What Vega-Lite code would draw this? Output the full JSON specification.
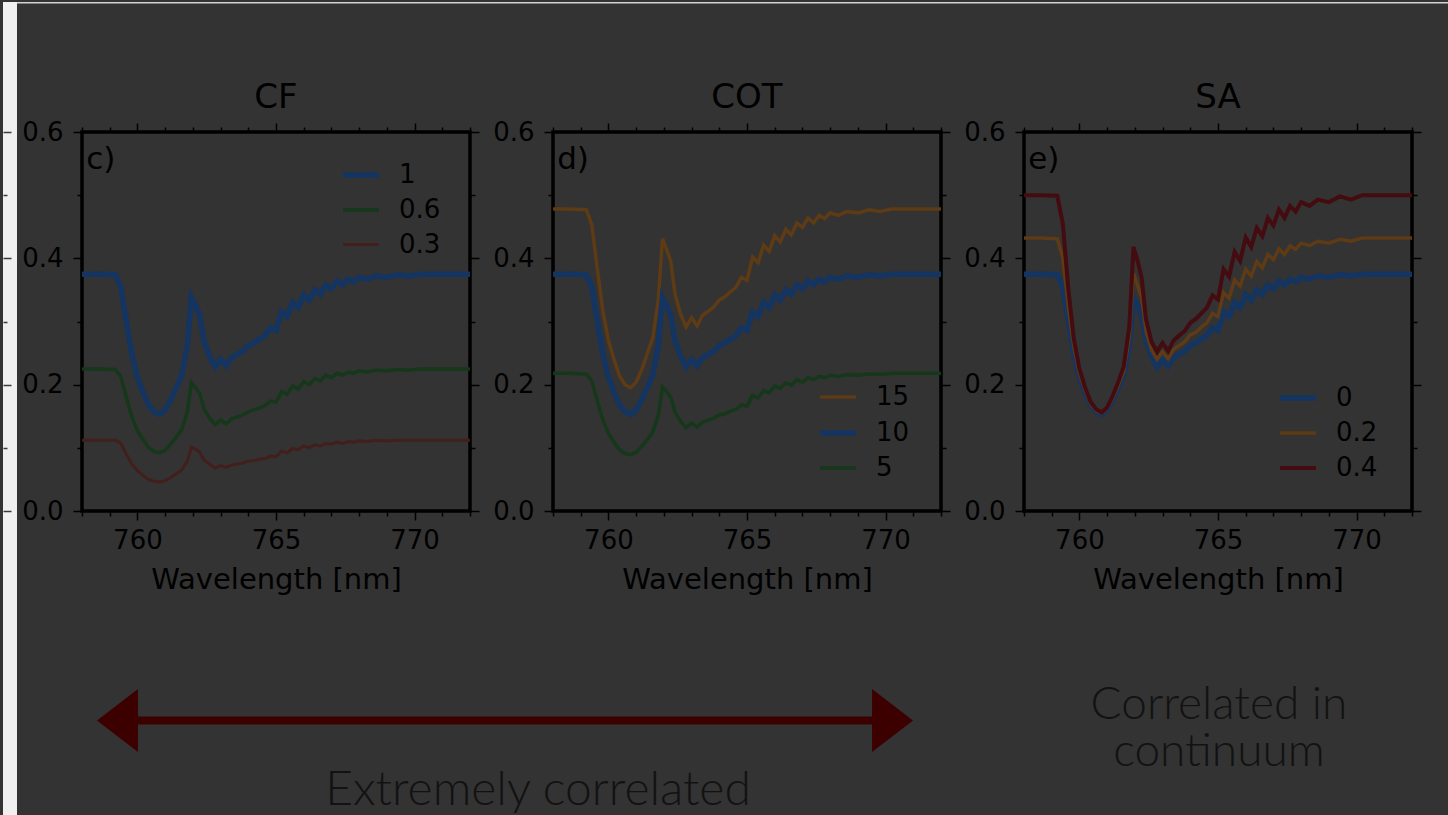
{
"$schema": "https://vega.github.io/schema/vega-lite/v6.json",
"background": "#333333",
"padding": 0,
"datasets": {"spec": [
{"wl":758.0,"b":0.375,"cf06":0.225,"cf03":0.112,"t15":0.478,"t5":0.218,"s02":0.432,"s04":0.500},
{"wl":758.6,"b":0.375,"cf06":0.225,"cf03":0.112,"t15":0.478,"t5":0.218,"s02":0.432,"s04":0.500},
{"wl":759.2,"b":0.374,"cf06":0.224,"cf03":0.112,"t15":0.477,"t5":0.217,"s02":0.431,"s04":0.499},
{"wl":759.4,"b":0.355,"cf06":0.213,"cf03":0.107,"t15":0.453,"t5":0.206,"s02":0.401,"s04":0.455},
{"wl":759.6,"b":0.300,"cf06":0.180,"cf03":0.090,"t15":0.383,"t5":0.174,"s02":0.323,"s04":0.351},
{"wl":759.8,"b":0.248,"cf06":0.149,"cf03":0.074,"t15":0.316,"t5":0.144,"s02":0.259,"s04":0.272},
{"wl":760.0,"b":0.212,"cf06":0.127,"cf03":0.064,"t15":0.270,"t5":0.123,"s02":0.218,"s04":0.225},
{"wl":760.2,"b":0.188,"cf06":0.113,"cf03":0.056,"t15":0.240,"t5":0.109,"s02":0.192,"s04":0.196},
{"wl":760.4,"b":0.168,"cf06":0.101,"cf03":0.050,"t15":0.214,"t5":0.097,"s02":0.170,"s04":0.173},
{"wl":760.6,"b":0.157,"cf06":0.094,"cf03":0.047,"t15":0.200,"t5":0.091,"s02":0.159,"s04":0.161},
{"wl":760.8,"b":0.153,"cf06":0.092,"cf03":0.046,"t15":0.195,"t5":0.089,"s02":0.155,"s04":0.156},
{"wl":761.0,"b":0.160,"cf06":0.096,"cf03":0.048,"t15":0.204,"t5":0.093,"s02":0.162,"s04":0.164},
{"wl":761.2,"b":0.176,"cf06":0.106,"cf03":0.053,"t15":0.224,"t5":0.102,"s02":0.179,"s04":0.182},
{"wl":761.4,"b":0.195,"cf06":0.117,"cf03":0.059,"t15":0.249,"t5":0.113,"s02":0.199,"s04":0.204},
{"wl":761.6,"b":0.215,"cf06":0.129,"cf03":0.065,"t15":0.274,"t5":0.125,"s02":0.221,"s04":0.229},
{"wl":761.8,"b":0.262,"cf06":0.157,"cf03":0.079,"t15":0.334,"t5":0.152,"s02":0.276,"s04":0.292},
{"wl":761.95,"b":0.338,"cf06":0.203,"cf03":0.101,"t15":0.431,"t5":0.196,"s02":0.376,"s04":0.418},
{"wl":762.1,"b":0.325,"cf06":0.195,"cf03":0.098,"t15":0.414,"t5":0.189,"s02":0.357,"s04":0.396},
{"wl":762.25,"b":0.310,"cf06":0.186,"cf03":0.093,"t15":0.395,"t5":0.180,"s02":0.337,"s04":0.368},
{"wl":762.4,"b":0.270,"cf06":0.162,"cf03":0.081,"t15":0.344,"t5":0.157,"s02":0.285,"s04":0.304},
{"wl":762.6,"b":0.245,"cf06":0.147,"cf03":0.074,"t15":0.312,"t5":0.142,"s02":0.255,"s04":0.268},
{"wl":762.8,"b":0.228,"cf06":0.137,"cf03":0.068,"t15":0.291,"t5":0.132,"s02":0.240,"s04":0.252},
{"wl":763.0,"b":0.240,"cf06":0.144,"cf03":0.072,"t15":0.306,"t5":0.139,"s02":0.252,"s04":0.266},
{"wl":763.2,"b":0.230,"cf06":0.138,"cf03":0.069,"t15":0.293,"t5":0.133,"s02":0.241,"s04":0.253},
{"wl":763.4,"b":0.243,"cf06":0.146,"cf03":0.073,"t15":0.310,"t5":0.141,"s02":0.256,"s04":0.270},
{"wl":763.6,"b":0.248,"cf06":0.149,"cf03":0.074,"t15":0.316,"t5":0.144,"s02":0.262,"s04":0.278},
{"wl":763.8,"b":0.253,"cf06":0.152,"cf03":0.076,"t15":0.323,"t5":0.147,"s02":0.268,"s04":0.285},
{"wl":764.0,"b":0.262,"cf06":0.157,"cf03":0.079,"t15":0.334,"t5":0.152,"s02":0.279,"s04":0.298},
{"wl":764.2,"b":0.266,"cf06":0.160,"cf03":0.080,"t15":0.339,"t5":0.154,"s02":0.283,"s04":0.304},
{"wl":764.4,"b":0.272,"cf06":0.163,"cf03":0.082,"t15":0.347,"t5":0.158,"s02":0.291,"s04":0.313},
{"wl":764.6,"b":0.278,"cf06":0.167,"cf03":0.083,"t15":0.354,"t5":0.161,"s02":0.298,"s04":0.322},
{"wl":764.8,"b":0.290,"cf06":0.174,"cf03":0.087,"t15":0.370,"t5":0.168,"s02":0.313,"s04":0.341},
{"wl":765.0,"b":0.286,"cf06":0.172,"cf03":0.086,"t15":0.365,"t5":0.166,"s02":0.308,"s04":0.335},
{"wl":765.2,"b":0.315,"cf06":0.189,"cf03":0.095,"t15":0.402,"t5":0.183,"s02":0.346,"s04":0.383},
{"wl":765.4,"b":0.308,"cf06":0.185,"cf03":0.092,"t15":0.393,"t5":0.179,"s02":0.337,"s04":0.371},
{"wl":765.6,"b":0.330,"cf06":0.198,"cf03":0.099,"t15":0.421,"t5":0.191,"s02":0.366,"s04":0.410},
{"wl":765.8,"b":0.322,"cf06":0.193,"cf03":0.097,"t15":0.411,"t5":0.187,"s02":0.356,"s04":0.396},
{"wl":766.0,"b":0.342,"cf06":0.205,"cf03":0.103,"t15":0.436,"t5":0.198,"s02":0.383,"s04":0.433},
{"wl":766.2,"b":0.334,"cf06":0.200,"cf03":0.100,"t15":0.426,"t5":0.194,"s02":0.372,"s04":0.418},
{"wl":766.4,"b":0.350,"cf06":0.210,"cf03":0.105,"t15":0.446,"t5":0.203,"s02":0.395,"s04":0.448},
{"wl":766.6,"b":0.343,"cf06":0.206,"cf03":0.103,"t15":0.437,"t5":0.199,"s02":0.385,"s04":0.435},
{"wl":766.8,"b":0.358,"cf06":0.215,"cf03":0.107,"t15":0.456,"t5":0.208,"s02":0.406,"s04":0.464},
{"wl":767.0,"b":0.352,"cf06":0.211,"cf03":0.106,"t15":0.449,"t5":0.204,"s02":0.398,"s04":0.452},
{"wl":767.2,"b":0.364,"cf06":0.218,"cf03":0.109,"t15":0.464,"t5":0.211,"s02":0.415,"s04":0.477},
{"wl":767.4,"b":0.358,"cf06":0.215,"cf03":0.107,"t15":0.456,"t5":0.208,"s02":0.406,"s04":0.464},
{"wl":767.6,"b":0.367,"cf06":0.220,"cf03":0.110,"t15":0.468,"t5":0.213,"s02":0.420,"s04":0.483},
{"wl":767.8,"b":0.363,"cf06":0.218,"cf03":0.109,"t15":0.463,"t5":0.211,"s02":0.414,"s04":0.474},
{"wl":768.0,"b":0.370,"cf06":0.222,"cf03":0.111,"t15":0.472,"t5":0.215,"s02":0.424,"s04":0.489},
{"wl":768.3,"b":0.367,"cf06":0.220,"cf03":0.110,"t15":0.468,"t5":0.213,"s02":0.420,"s04":0.483},
{"wl":768.6,"b":0.372,"cf06":0.223,"cf03":0.112,"t15":0.474,"t5":0.216,"s02":0.427,"s04":0.493},
{"wl":769.0,"b":0.370,"cf06":0.222,"cf03":0.111,"t15":0.472,"t5":0.215,"s02":0.424,"s04":0.489},
{"wl":769.4,"b":0.374,"cf06":0.224,"cf03":0.112,"t15":0.477,"t5":0.217,"s02":0.430,"s04":0.498},
{"wl":769.8,"b":0.372,"cf06":0.223,"cf03":0.112,"t15":0.474,"t5":0.216,"s02":0.427,"s04":0.493},
{"wl":770.2,"b":0.375,"cf06":0.225,"cf03":0.112,"t15":0.478,"t5":0.218,"s02":0.432,"s04":0.500},
{"wl":771.0,"b":0.375,"cf06":0.225,"cf03":0.112,"t15":0.478,"t5":0.218,"s02":0.432,"s04":0.500},
{"wl":772.0,"b":0.375,"cf06":0.225,"cf03":0.112,"t15":0.478,"t5":0.218,"s02":0.432,"s04":0.500}
]},
"config": {
  "font": "DejaVu Sans",
  "view": {"stroke": "#000000", "strokeWidth": 3.5},
  "axis": {"domain": false, "grid": false, "tickColor": "#000000", "tickWidth": 1.5, "labelColor": "#000000", "labelFontSize": 26, "labelFont": "DejaVu Sans", "labelFlush": false, "titleColor": "#000000", "titleFontSize": 29, "titleFontWeight": "normal", "titleFont": "DejaVu Sans"},
  "legend": {"symbolType": "stroke", "symbolSize": 1296, "labelFontSize": 26, "labelFont": "DejaVu Sans", "labelColor": "#000000", "rowPadding": 2, "padding": 0, "labelOffset": 17},
  "title": {"fontSize": 34, "fontWeight": "normal", "font": "DejaVu Sans", "color": "#000000", "anchor": "middle", "frame": "group", "baseline": "alphabetic"}
},
"vconcat": [
 {"hconcat": [
  {"width": 388, "height": 379,
   "title": {"text": "CF", "offset": -113},
   "data": {"name": "spec"},
   "layer": [
    {"data": {"values": [{"t": "strip"}]},
     "mark": {"type": "rect", "fill": "#f0f0f0", "clip": false},
     "encoding": {
      "x": {"datum": 755.1495, "type": "quantitative", "axis": null},
      "x2": {"datum": 755.6546},
      "y": {"datum": -0.4844, "type": "quantitative", "axis": {"orient": "right", "offset": -467, "values": [0, 0.2, 0.4, 0.6], "tickSize": 8, "labels": false, "title": null, "tickColor": "#3a3a3a", "zindex": 1}},
      "y2": {"datum": 0.8058}
     }},
    {"data": {"values": [{"t": "top edge"}]},
     "mark": {"type": "rect", "fill": "#d4d4d4", "clip": false},
     "encoding": {
      "x": {"datum": 755.6546, "type": "quantitative", "axis": null},
      "x2": {"datum": 807.40},
      "y": {"datum": 0.8034, "type": "quantitative", "axis": null},
      "y2": {"datum": 0.8058}
     }},
    {"transform": [{"fold": ["b", "cf06", "cf03"], "as": ["k", "v"]}],
     "mark": {"type": "line"},
     "encoding": {
      "x": {"field": "wl", "type": "quantitative", "scale": {"domain": [758, 772], "nice": false, "zero": false}, "axis": {"orient": "bottom", "values": [760, 765, 770], "tickSize": 9, "labelPadding": 7, "title": "Wavelength [nm]", "titlePadding": 12}},
      "y": {"field": "v", "type": "quantitative", "scale": {"domain": [0, 0.6], "nice": false, "zero": false}, "axis": {"orient": "left", "values": [0, 0.2, 0.4, 0.6], "format": ".1f", "tickSize": 9, "labelPadding": 10, "title": null}},
      "color": {"field": "k", "type": "ordinal", "scale": {"type": "ordinal", "domain": ["b", "cf06", "cf03"], "range": ["#143462", "#15381b", "#421f1c"]}, "legend": {"title": null, "orient": "none", "legendX": 258, "legendY": 22, "labelExpr": "datum.label == 'b' ? '1' : (datum.label == 'cf06' ? '0.6' : '0.3')"}},
      "strokeWidth": {"field": "k", "type": "ordinal", "scale": {"type": "ordinal", "domain": ["b", "cf06", "cf03"], "range": [5.5, 3.5, 3]}, "legend": {"title": null, "orient": "none", "legendX": 258, "legendY": 22, "labelExpr": "datum.label == 'b' ? '1' : (datum.label == 'cf06' ? '0.6' : '0.3')"}}
     }},
    {"mark": {"type": "point", "opacity": 0},
     "encoding": {
      "x": {"field": "wl", "type": "quantitative", "axis": {"orient": "bottom", "values": [758, 759, 761, 762, 763, 764, 766, 767, 768, 769, 771, 772], "tickSize": 5, "labels": false, "title": null}},
      "y": {"field": "b", "type": "quantitative", "axis": {"orient": "left", "values": [0.1, 0.3, 0.5], "tickSize": 5, "labels": false, "title": null}}
     }},
    {"mark": {"type": "point", "opacity": 0},
     "encoding": {
      "x": {"field": "wl", "type": "quantitative", "axis": {"orient": "top", "values": [760, 765, 770], "tickSize": 9, "labels": false, "title": null}},
      "y": {"field": "b", "type": "quantitative", "axis": {"orient": "right", "values": [0, 0.2, 0.4, 0.6], "tickSize": 9, "labels": false, "title": null}}
     }},
    {"mark": {"type": "point", "opacity": 0},
     "encoding": {
      "x": {"field": "wl", "type": "quantitative", "axis": {"orient": "top", "values": [758, 759, 761, 762, 763, 764, 766, 767, 768, 769, 771, 772], "tickSize": 5, "labels": false, "title": null}},
      "y": {"field": "b", "type": "quantitative", "axis": {"orient": "right", "values": [0.1, 0.3, 0.5], "tickSize": 5, "labels": false, "title": null}}
     }},
    {"data": {"values": [{"t": "c)"}]},
     "mark": {"type": "text", "align": "left", "baseline": "alphabetic", "fontSize": 31, "font": "DejaVu Sans", "color": "#000000"},
     "encoding": {
      "x": {"datum": 758.15, "type": "quantitative", "axis": null},
      "y": {"datum": 0.5414, "type": "quantitative", "axis": {"orient": "right", "offset": -467, "values": [0.1, 0.3, 0.5], "tickSize": 4, "labels": false, "title": null, "tickColor": "#3a3a3a", "zindex": 1}},
      "text": {"field": "t"}
     }}
   ],
   "resolve": {"axis": {"x": "independent", "y": "independent"}}
  },
  {"width": 388, "height": 379,
   "title": {"text": "COT", "offset": 4},
   "data": {"name": "spec"},
   "layer": [
    {"transform": [{"fold": ["t15", "b", "t5"], "as": ["k", "v"]}],
     "mark": {"type": "line"},
     "encoding": {
      "x": {"field": "wl", "type": "quantitative", "scale": {"domain": [758, 772], "nice": false, "zero": false}, "axis": {"orient": "bottom", "values": [760, 765, 770], "tickSize": 9, "labelPadding": 7, "title": "Wavelength [nm]", "titlePadding": 12}},
      "y": {"field": "v", "type": "quantitative", "scale": {"domain": [0, 0.6], "nice": false, "zero": false}, "axis": {"orient": "left", "values": [0, 0.2, 0.4, 0.6], "format": ".1f", "tickSize": 9, "labelPadding": 10, "title": null}},
      "color": {"field": "k", "type": "ordinal", "scale": {"type": "ordinal", "domain": ["t15", "b", "t5"], "range": ["#5e3b14", "#143462", "#15381b"]}, "legend": {"title": null, "orient": "none", "legendX": 264, "legendY": 245, "labelExpr": "datum.label == 't15' ? '15' : (datum.label == 'b' ? '10' : '5')"}},
      "strokeWidth": {"field": "k", "type": "ordinal", "scale": {"type": "ordinal", "domain": ["t15", "b", "t5"], "range": [3.5, 5.5, 3.5]}, "legend": {"title": null, "orient": "none", "legendX": 264, "legendY": 245, "labelExpr": "datum.label == 't15' ? '15' : (datum.label == 'b' ? '10' : '5')"}}
     }},
    {"mark": {"type": "point", "opacity": 0},
     "encoding": {
      "x": {"field": "wl", "type": "quantitative", "axis": {"orient": "bottom", "values": [758, 759, 761, 762, 763, 764, 766, 767, 768, 769, 771, 772], "tickSize": 5, "labels": false, "title": null}},
      "y": {"field": "b", "type": "quantitative", "axis": {"orient": "left", "values": [0.1, 0.3, 0.5], "tickSize": 5, "labels": false, "title": null}}
     }},
    {"mark": {"type": "point", "opacity": 0},
     "encoding": {
      "x": {"field": "wl", "type": "quantitative", "axis": {"orient": "top", "values": [760, 765, 770], "tickSize": 9, "labels": false, "title": null}},
      "y": {"field": "b", "type": "quantitative", "axis": {"orient": "right", "values": [0, 0.2, 0.4, 0.6], "tickSize": 9, "labels": false, "title": null}}
     }},
    {"mark": {"type": "point", "opacity": 0},
     "encoding": {
      "x": {"field": "wl", "type": "quantitative", "axis": {"orient": "top", "values": [758, 759, 761, 762, 763, 764, 766, 767, 768, 769, 771, 772], "tickSize": 5, "labels": false, "title": null}},
      "y": {"field": "b", "type": "quantitative", "axis": {"orient": "right", "values": [0.1, 0.3, 0.5], "tickSize": 5, "labels": false, "title": null}}
     }},
    {"data": {"values": [{"t": "d)"}]},
     "mark": {"type": "text", "align": "left", "baseline": "alphabetic", "fontSize": 31, "font": "DejaVu Sans", "color": "#000000"},
     "encoding": {
      "x": {"datum": 758.15, "type": "quantitative", "axis": null},
      "y": {"datum": 0.5414, "type": "quantitative", "axis": null},
      "text": {"field": "t"}
     }}
   ],
   "resolve": {"axis": {"x": "independent", "y": "independent"}}
  },
  {"width": 388, "height": 379,
   "title": {"text": "SA", "offset": 4},
   "data": {"name": "spec"},
   "layer": [
    {"transform": [{"fold": ["b", "s02", "s04"], "as": ["k", "v"]}],
     "mark": {"type": "line"},
     "encoding": {
      "x": {"field": "wl", "type": "quantitative", "scale": {"domain": [758, 772], "nice": false, "zero": false}, "axis": {"orient": "bottom", "values": [760, 765, 770], "tickSize": 9, "labelPadding": 7, "title": "Wavelength [nm]", "titlePadding": 12}},
      "y": {"field": "v", "type": "quantitative", "scale": {"domain": [0, 0.6], "nice": false, "zero": false}, "axis": {"orient": "left", "values": [0, 0.2, 0.4, 0.6], "format": ".1f", "tickSize": 9, "labelPadding": 10, "title": null}},
      "color": {"field": "k", "type": "ordinal", "scale": {"type": "ordinal", "domain": ["b", "s02", "s04"], "range": ["#143462", "#5e3b14", "#440b10"]}, "legend": {"title": null, "orient": "none", "legendX": 253, "legendY": 245, "labelExpr": "datum.label == 'b' ? '0' : (datum.label == 's02' ? '0.2' : '0.4')"}},
      "strokeWidth": {"field": "k", "type": "ordinal", "scale": {"type": "ordinal", "domain": ["b", "s02", "s04"], "range": [5.5, 3.5, 4]}, "legend": {"title": null, "orient": "none", "legendX": 253, "legendY": 245, "labelExpr": "datum.label == 'b' ? '0' : (datum.label == 's02' ? '0.2' : '0.4')"}}
     }},
    {"mark": {"type": "point", "opacity": 0},
     "encoding": {
      "x": {"field": "wl", "type": "quantitative", "axis": {"orient": "bottom", "values": [758, 759, 761, 762, 763, 764, 766, 767, 768, 769, 771, 772], "tickSize": 5, "labels": false, "title": null}},
      "y": {"field": "b", "type": "quantitative", "axis": {"orient": "left", "values": [0.1, 0.3, 0.5], "tickSize": 5, "labels": false, "title": null}}
     }},
    {"mark": {"type": "point", "opacity": 0},
     "encoding": {
      "x": {"field": "wl", "type": "quantitative", "axis": {"orient": "top", "values": [760, 765, 770], "tickSize": 9, "labels": false, "title": null}},
      "y": {"field": "b", "type": "quantitative", "axis": {"orient": "right", "values": [0, 0.2, 0.4, 0.6], "tickSize": 9, "labels": false, "title": null}}
     }},
    {"mark": {"type": "point", "opacity": 0},
     "encoding": {
      "x": {"field": "wl", "type": "quantitative", "axis": {"orient": "top", "values": [758, 759, 761, 762, 763, 764, 766, 767, 768, 769, 771, 772], "tickSize": 5, "labels": false, "title": null}},
      "y": {"field": "b", "type": "quantitative", "axis": {"orient": "right", "values": [0.1, 0.3, 0.5], "tickSize": 5, "labels": false, "title": null}}
     }},
    {"data": {"values": [{"t": "e)"}]},
     "mark": {"type": "text", "align": "left", "baseline": "alphabetic", "fontSize": 31, "font": "DejaVu Sans", "color": "#000000"},
     "encoding": {
      "x": {"datum": 758.15, "type": "quantitative", "axis": null},
      "y": {"datum": 0.5414, "type": "quantitative", "axis": null},
      "text": {"field": "t"}
     }}
   ],
   "resolve": {"axis": {"x": "independent", "y": "independent"}}
  }
 ],
 "spacing": 83, "bounds": "flush",
 "resolve": {"scale": {"x": "independent", "y": "independent", "color": "independent", "strokeWidth": "independent"}, "legend": {"color": "independent", "strokeWidth": "independent"}, "axis": {"x": "independent", "y": "independent"}}
 },
 {"width": 1369, "height": 306,
  "view": {"stroke": null, "fill": null},
  "layer": [
   {"data": {"values": [{"part": "shaft"}]},
    "mark": {"type": "rule", "color": "#3c0000", "strokeWidth": 8},
    "encoding": {
     "x": {"datum": 0.02995, "type": "quantitative", "scale": {"domain": [0, 1], "nice": false, "zero": false}, "axis": null},
     "x2": {"datum": 0.5888},
     "y": {"datum": 0.3154, "type": "quantitative", "scale": {"domain": [0, 1], "nice": false, "zero": false}, "axis": null}
    }},
   {"data": {"values": [{"part": "left head"}]},
    "mark": {"type": "point", "shape": "M -1 0 L 0.3 -1 L 0.3 1 Z", "size": 3969, "filled": true, "color": "#3c0000", "opacity": 1, "strokeWidth": 0},
    "encoding": {
     "x": {"datum": 0.03397, "type": "quantitative", "axis": null},
     "y": {"datum": 0.3154, "type": "quantitative", "axis": null}
    }},
   {"data": {"values": [{"part": "right head"}]},
    "mark": {"type": "point", "shape": "M 1 0 L -0.3 -1 L -0.3 1 Z", "size": 3969, "filled": true, "color": "#3c0000", "opacity": 1, "strokeWidth": 0},
    "encoding": {
     "x": {"datum": 0.5840, "type": "quantitative", "axis": null},
     "y": {"datum": 0.3154, "type": "quantitative", "axis": null}
    }},
   {"data": {"values": [{"t": "Extremely correlated"}]},
    "mark": {"type": "text", "font": "Lato", "fontWeight": 300, "fontSize": 48, "color": "#121212", "align": "center", "baseline": "alphabetic"},
    "encoding": {
     "x": {"datum": 0.3331, "type": "quantitative", "axis": null},
     "y": {"datum": 0.0392, "type": "quantitative", "axis": null},
     "text": {"field": "t"}
    }},
   {"data": {"values": [{"t": "Correlated in\ncontinuum"}]},
    "mark": {"type": "text", "font": "Lato", "fontWeight": 300, "fontSize": 46, "lineHeight": 47, "lineBreak": "\n", "color": "#121212", "align": "center", "baseline": "alphabetic"},
    "encoding": {
     "x": {"datum": 0.8305, "type": "quantitative", "axis": null},
     "y": {"datum": 0.3203, "type": "quantitative", "axis": null},
     "text": {"field": "t"}
    }}
  ]
 }
],
"spacing": 379,
"bounds": "flush"
}
